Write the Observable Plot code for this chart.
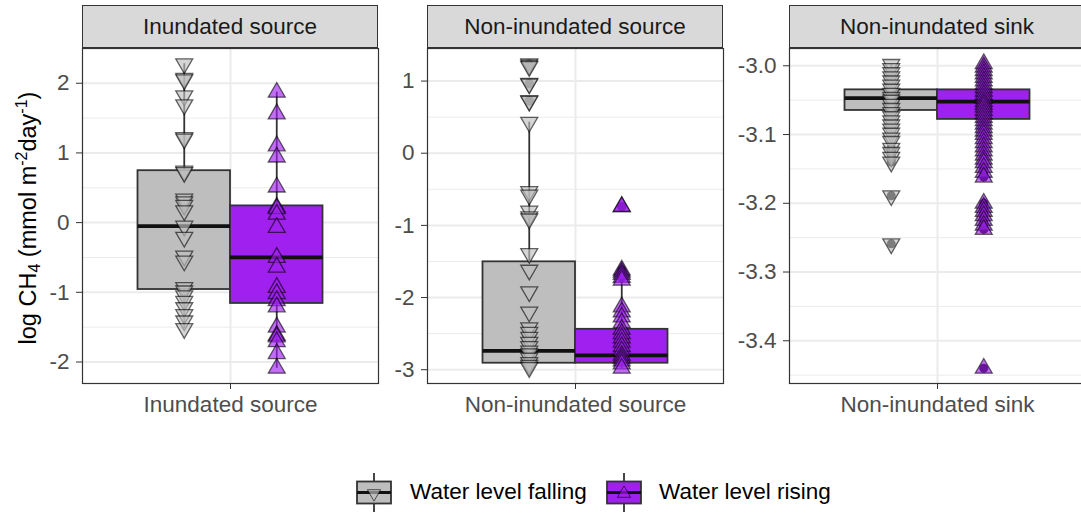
<!DOCTYPE html>
<html>
<head>
<meta charset="utf-8">
<script src="https://cdn.jsdelivr.net/npm/d3@7"></script>
<script src="https://cdn.jsdelivr.net/npm/@observablehq/plot@0.6"></script>
<style>
  body { margin: 0; background: #fff; }
  #chart { position: relative; width: 1081px; height: 514px; overflow: hidden; background: #fff;
           font-family: "Liberation Sans", Arial, Helvetica, sans-serif; }
  .panel { position: absolute; top: 0; }
  .strip { position: absolute; top: 5px; height: 43px; box-sizing: border-box; border: 1.2px solid #333;
           background: #d9d9d9; color: #1a1a1a; font-size: 22.5px; display: flex; align-items: center;
           justify-content: center; white-space: nowrap; }
  .ytitle { position: absolute; left: 28px; top: 218px; transform: translate(-50%, -50%) rotate(-90deg);
            white-space: nowrap; font-size: 23.5px; color: #000; }
  .ytitle sub, .ytitle sup { font-size: 16px; }
  .ytitle sub { vertical-align: -4px; }
  .ytitle sup { vertical-align: 9px; }
  .legend-key { position: absolute; top: 472px; }
  .legend-label { position: absolute; top: 479px; font-size: 22.5px; color: #000; white-space: nowrap; }
</style>
</head>
<body>
<div id="chart"></div>
<script>
// Facets (site type) and series (hydrological phase)
const panels = ["Inundated source", "Non-inundated source", "Non-inundated sink"];
const series = ["Water level falling", "Water level rising"];
const seriesFill = ["#BEBEBE", "#A020F0"];

// log CH4 flux observations, one list per facet
const fallingFlux = [
  [2.28, 2.07, 2.05, 1.82, 1.69, 1.22, 1.20, 0.74, 0.72, 0.34, 0.30, 0.25, 0.17, -0.05, -0.21,
   -0.48, -0.55, -0.93, -0.98, -1.05, -1.13, -1.22, -1.32, -1.41, -1.52],
  [1.24, 1.22, 1.20, 0.97, 0.96, 0.73, 0.72, 0.43, -0.53, -0.58, -0.80, -0.88, -0.91, -1.39, -1.62,
   -1.92, -2.20, -2.42, -2.48, -2.55, -2.62, -2.68, -2.74, -2.78, -2.84, -2.90, -2.94, -2.97],
  [-2.998, -3.004, -3.010, -3.016, -3.022, -3.028, -3.034, -3.040, -3.046, -3.050, -3.056, -3.062,
   -3.068, -3.074, -3.080, -3.086, -3.092, -3.098, -3.105, -3.110, -3.120, -3.126, -3.133, -3.140,
   -3.189, -3.259]
];
const risingFlux = [
  [1.87, 1.56, 1.10, 0.94, 0.51, 0.22, 0.20, 0.12, -0.07, -0.50, -0.64, -0.93, -1.02, -1.12, -1.21,
   -1.50, -1.62, -1.64, -1.71, -1.88, -2.09],
  [-0.74, -0.74, -1.62, -1.65, -1.68, -1.72, -1.76, -2.13, -2.20, -2.27, -2.35, -2.44, -2.50, -2.56,
   -2.62, -2.68, -2.74, -2.80, -2.84, -2.88, -2.92, -2.98],
  [-2.997, -3.002, -3.007, -3.012, -3.017, -3.022, -3.027, -3.032, -3.037, -3.042, -3.047, -3.052,
   -3.056, -3.060, -3.065, -3.070, -3.075, -3.080, -3.085, -3.090, -3.095, -3.100, -3.106, -3.112,
   -3.118, -3.124, -3.130, -3.136, -3.141, -3.148, -3.155, -3.162, -3.200, -3.206, -3.212, -3.218,
   -3.225, -3.232, -3.238, -3.440]
];

// Box summaries per facet: whisker ends, quartiles and median
const fallingLower  = [-1.52, -2.97, -3.110];
const fallingQ1     = [-0.96, -2.91, -3.065];
const fallingMedian = [-0.05, -2.74, -3.047];
const fallingQ3     = [0.745, -1.505, -3.035];
const fallingUpper  = [2.28, 0.43, -2.998];
const risingLower   = [-2.09, -2.98, -3.141];
const risingQ1      = [-1.16, -2.91, -3.078];
const risingMedian  = [-0.50, -2.80, -3.052];
const risingQ3      = [0.24, -2.44, -3.035];
const risingUpper   = [1.87, -1.76, -2.997];

// y-axis breaks per facet
const yTicks = [[-2, -1, 0, 1, 2], [-3, -2, -1, 0, 1], [-3.4, -3.3, -3.2, -3.1, -3.0]];
const yTickDigits = [0, 0, 1];

// Triangle symbols (centroid-centred), pointing down and up
const sqrt3 = Math.sqrt(3);
const triDown = {
  draw(context, size) {
    const y = -Math.sqrt(size / (sqrt3 * 3));
    context.moveTo(0, -y * 2);
    context.lineTo(-sqrt3 * y, y);
    context.lineTo(sqrt3 * y, y);
    context.closePath();
  }
};
const triUp = d3.symbolTriangle;
const symbols = [triDown, triUp];

// Layout
const panelLeft = [82, 427, 789];
const panelWidth = 296, panelTop = 48, panelBottom = 383;
const mLeft = 70, mRight = 2, mBottom = 45;
const dodge = [1 - 0.1875, 1 + 0.1875], half = 0.1875;
const fontFamily = '"Liberation Sans", Arial, Helvetica, sans-serif';
const pointOpacity = 0.65;
const pointStrokeOpacity = 0.6;

const chart = d3.select("#chart");

panels.forEach((name, i) => {
  const stats = [
    {lo: fallingLower[i], q1: fallingQ1[i], med: fallingMedian[i], q3: fallingQ3[i], hi: fallingUpper[i]},
    {lo: risingLower[i], q1: risingQ1[i], med: risingMedian[i], q3: risingQ3[i], hi: risingUpper[i]}
  ];
  const boxes = stats.map((s, j) => ({...s, j, x: dodge[j], x1: dodge[j] - half, x2: dodge[j] + half, fill: seriesFill[j]}));
  const obs = [fallingFlux[i], risingFlux[i]].map((vals, j) => vals.map(v => ({j, x: dodge[j], v})));
  const all = obs.flat();
  const outliers = all.filter(d => d.v < stats[d.j].lo || d.v > stats[d.j].hi);

  const [lo, hi] = d3.extent(all, d => d.v);
  const pad = (hi - lo) * 0.05;
  const domain = [lo - pad, hi + pad];

  const ticks = yTicks[i];
  const step = ticks[1] - ticks[0];
  const minor = [ticks[0] - step / 2, ...d3.pairs(ticks, (a, b) => (a + b) / 2), ticks[ticks.length - 1] + step / 2]
    .filter(v => v >= domain[0] && v <= domain[1]);

  const plot = Plot.plot({
    width: mLeft + panelWidth + mRight,
    height: panelBottom + mBottom,
    marginLeft: mLeft, marginRight: mRight, marginTop: panelTop, marginBottom: mBottom,
    x: {domain: [0.4, 1.6]},
    y: {domain},
    color: {type: "identity"},
    style: {fontFamily, fontSize: "22.5px", background: "transparent", overflow: "visible"},
    marks: [
      Plot.ruleY(minor, {stroke: "#ebebeb", strokeWidth: 1}),
      Plot.ruleY(ticks, {stroke: "#ebebeb", strokeWidth: 2}),
      Plot.ruleX([1], {stroke: "#ebebeb", strokeWidth: 2}),
      Plot.ruleX(boxes, {x: "x", y1: "lo", y2: "hi", stroke: "#333", strokeWidth: 1.8}),
      Plot.rect(boxes, {x1: "x1", x2: "x2", y1: "q1", y2: "q3", fill: "fill", stroke: "#333", strokeWidth: 1.8}),
      Plot.ruleY(boxes, {x1: "x1", x2: "x2", y: "med", stroke: "#111", strokeWidth: 3.8}),
      Plot.dot(outliers, {x: "x", y: "v", r: 4.5, fill: "#000", stroke: null}),
      ...obs.map((rows, j) => Plot.dot(rows, {
        x: "x", y: "v", symbol: symbols[j], r: 6.3,
        fill: seriesFill[j], fillOpacity: pointOpacity,
        stroke: "#000", strokeOpacity: pointStrokeOpacity, strokeWidth: 1.3
      })),
      Plot.frame({stroke: "#333", strokeWidth: 1.2}),
      Plot.axisY({ticks, tickFormat: d => d.toFixed(yTickDigits[i]), tickSize: 6, tickPadding: 7,
                  fontSize: 22.5, fill: "#4d4d4d", stroke: "#333", label: null}),
      Plot.axisX({ticks: [1], tickFormat: () => name, tickSize: 6, tickPadding: 7,
                  fontSize: 22.5, fill: "#4d4d4d", stroke: "#333", label: null})
    ]
  });

  chart.append(() => plot)
    .attr("class", "panel")
    .style("left", (panelLeft[i] - mLeft) + "px");

  chart.append("div")
    .attr("class", "strip")
    .style("left", panelLeft[i] + "px")
    .style("width", panelWidth + "px")
    .text(name);
});

// Axis title
chart.append("div")
  .attr("class", "ytitle")
  .html("log CH<sub>4</sub> (mmol m<sup>-2</sup>day<sup>-1</sup>)");

// Legend: a miniature box with whiskers and the series' triangle
const keyLeft = [355, 605], labelLeft = [410, 659];
series.forEach((s, j) => {
  const svg = chart.append("svg")
    .attr("class", "legend-key")
    .attr("width", 40).attr("height", 42)
    .style("left", keyLeft[j] + "px");
  svg.append("line").attr("x1", 19).attr("x2", 19).attr("y1", 1).attr("y2", 40)
    .attr("stroke", "#333").attr("stroke-width", 1.8);
  svg.append("rect").attr("x", 2).attr("y", 9.5).attr("width", 34).attr("height", 22)
    .attr("fill", seriesFill[j]).attr("stroke", "#333").attr("stroke-width", 1.8);
  svg.append("line").attr("x1", 2).attr("x2", 36).attr("y1", 20.5).attr("y2", 20.5)
    .attr("stroke", "#111").attr("stroke-width", 3.2);
  svg.append("path")
    .attr("d", d3.symbol(symbols[j], 75)())
    .attr("transform", "translate(19,21.5)")
    .attr("fill", seriesFill[j]).attr("fill-opacity", pointOpacity)
    .attr("stroke", "#000").attr("stroke-opacity", pointStrokeOpacity);
  chart.append("div")
    .attr("class", "legend-label")
    .style("left", labelLeft[j] + "px")
    .text(s);
});
</script>
</body>
</html>
